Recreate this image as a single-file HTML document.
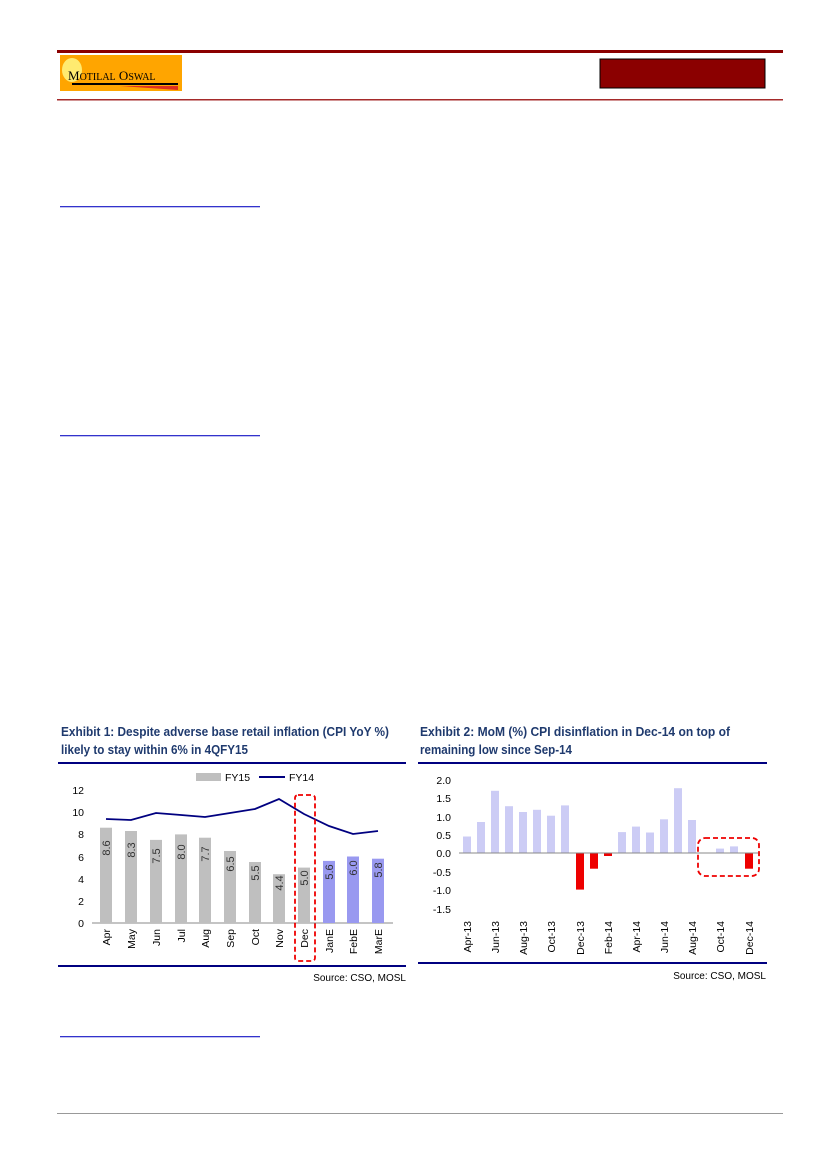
<!DOCTYPE html><html><head><style>body{margin:0;background:#fff}svg{display:block;font-family:"Liberation Sans",sans-serif}</style></head><body>
<svg width="827" height="1170" viewBox="0 0 827 1170" xmlns="http://www.w3.org/2000/svg">
<rect x="57" y="50" width="726" height="3" fill="#8b0000"/>
<rect x="57" y="99" width="726" height="1.5" fill="#a52a2a"/>
<rect x="60" y="55" width="122" height="36" fill="#ffa500"/>
<ellipse cx="72" cy="70" rx="10" ry="12" fill="#ffeb70"/>
<text x="68" y="80" font-family="Liberation Serif" font-size="13" fill="#000">M<tspan font-size="10">OTILAL</tspan> O<tspan font-size="10">SWAL</tspan></text>
<rect x="72" y="83" width="106" height="2" fill="#000"/>
<polygon points="120,86 178,86 178,90" fill="#e0301e"/>
<rect x="600" y="59" width="165" height="29" fill="#8b0000" stroke="#000"/>
<g fill="#3333cc"><rect x="60" y="206" width="200" height="1.3"/><rect x="60" y="435" width="200" height="1.3"/><rect x="60" y="1036" width="200" height="1.3"/></g>
<rect x="57" y="1113" width="726" height="1" fill="#999"/>
<g font-size="12.5" font-weight="bold" fill="#1f3a6e">
<text x="61" y="736" textLength="328" lengthAdjust="spacingAndGlyphs">Exhibit 1: Despite adverse base retail inflation (CPI YoY %)</text>
<text x="61" y="754" textLength="187" lengthAdjust="spacingAndGlyphs">likely to stay within 6% in 4QFY15</text>
<text x="420" y="736" textLength="310" lengthAdjust="spacingAndGlyphs">Exhibit 2: MoM (%) CPI disinflation in Dec-14 on top of</text>
<text x="420" y="754" textLength="152" lengthAdjust="spacingAndGlyphs">remaining low since Sep-14</text></g>
<g fill="#000080"><rect x="58" y="762" width="348" height="2"/><rect x="58" y="965" width="348" height="2"/><rect x="418" y="762" width="349" height="2"/><rect x="418" y="962" width="349" height="2"/></g>
<g font-size="10" fill="#000"><text x="406" y="981" text-anchor="end">Source: CSO, MOSL</text><text x="766" y="979" text-anchor="end">Source: CSO, MOSL</text></g>
<rect x="196" y="773" width="25" height="8" fill="#bfbfbf"/><text x="225" y="781" font-size="10.5">FY15</text>
<line x1="259" y1="777" x2="285" y2="777" stroke="#000080" stroke-width="2"/><text x="289" y="781" font-size="10.5">FY14</text>
<g font-size="10.5" text-anchor="end"><text x="84" y="927">0</text><text x="84" y="905">2</text><text x="84" y="883">4</text><text x="84" y="861">6</text><text x="84" y="838">8</text><text x="84" y="816">10</text><text x="84" y="794">12</text></g>
<line x1="92" y1="923" x2="393" y2="923" stroke="#888"/>
<g>
<rect x="100" y="827.7" width="12" height="95.3" fill="#bfbfbf"/><rect x="125" y="831" width="12" height="92" fill="#bfbfbf"/><rect x="150" y="839.9" width="12" height="83.1" fill="#bfbfbf"/><rect x="175" y="834.4" width="12" height="88.6" fill="#bfbfbf"/><rect x="199" y="837.7" width="12" height="85.3" fill="#bfbfbf"/><rect x="224" y="851" width="12" height="72" fill="#bfbfbf"/><rect x="249" y="862" width="12" height="61" fill="#bfbfbf"/><rect x="273" y="874.2" width="12" height="48.8" fill="#bfbfbf"/><rect x="298" y="867.6" width="12" height="55.4" fill="#bfbfbf"/><rect x="323" y="860.9" width="12" height="62.1" fill="#9999f0"/><rect x="347" y="856.5" width="12" height="66.5" fill="#9999f0"/><rect x="372" y="858.7" width="12" height="64.3" fill="#9999f0"/>
</g>
<g font-size="11" fill="#333">
<text transform="translate(110,848) rotate(-90)" text-anchor="middle">8.6</text>
<text transform="translate(135,850) rotate(-90)" text-anchor="middle">8.3</text>
<text transform="translate(160,856) rotate(-90)" text-anchor="middle">7.5</text>
<text transform="translate(185,852) rotate(-90)" text-anchor="middle">8.0</text>
<text transform="translate(209,854) rotate(-90)" text-anchor="middle">7.7</text>
<text transform="translate(234,864) rotate(-90)" text-anchor="middle">6.5</text>
<text transform="translate(259,873) rotate(-90)" text-anchor="middle">5.5</text>
<text transform="translate(283,883) rotate(-90)" text-anchor="middle">4.4</text>
<text transform="translate(308,878) rotate(-90)" text-anchor="middle">5.0</text>
<text transform="translate(333,872) rotate(-90)" text-anchor="middle">5.6</text>
<text transform="translate(357,868) rotate(-90)" text-anchor="middle">6.0</text>
<text transform="translate(382,870) rotate(-90)" text-anchor="middle">5.8</text>
</g>
<polyline fill="none" stroke="#000080" stroke-width="1.8" points="106,819 131,820 156,813 181,815 205,817 230,813 255,809 279,799 304,814 329,826 353,834 378,831"/>
<g font-size="10.5" text-anchor="end">
<text transform="translate(110,929) rotate(-90)">Apr</text><text transform="translate(135,929) rotate(-90)">May</text><text transform="translate(160,929) rotate(-90)">Jun</text><text transform="translate(185,929) rotate(-90)">Jul</text><text transform="translate(209,929) rotate(-90)">Aug</text><text transform="translate(234,929) rotate(-90)">Sep</text><text transform="translate(259,929) rotate(-90)">Oct</text><text transform="translate(283,929) rotate(-90)">Nov</text><text transform="translate(308,929) rotate(-90)">Dec</text><text transform="translate(333,929) rotate(-90)">JanE</text><text transform="translate(357,929) rotate(-90)">FebE</text><text transform="translate(382,929) rotate(-90)">MarE</text></g>
<rect x="295" y="795" width="20" height="166" rx="3" fill="none" stroke="#e00" stroke-width="1.8" stroke-dasharray="5,3"/>
<g font-size="10.5" text-anchor="end"><text x="451" y="784">2.0</text><text x="451" y="802">1.5</text><text x="451" y="821">1.0</text><text x="451" y="839">0.5</text><text x="451" y="857">0.0</text><text x="451" y="876">-0.5</text><text x="451" y="894">-1.0</text><text x="451" y="913">-1.5</text></g>
<g fill="#ccccf5">
<rect x="463" y="836.5" width="8" height="16.5"/><rect x="477" y="822" width="8" height="31"/><rect x="491" y="790.8" width="8" height="62.2"/><rect x="505" y="806.2" width="8" height="46.8"/><rect x="519" y="812" width="8" height="41"/><rect x="533" y="809.8" width="8" height="43.2"/><rect x="547" y="815.7" width="8" height="37.3"/><rect x="561" y="805.4" width="8" height="47.6"/>
<rect x="618" y="832.1" width="8" height="20.9"/><rect x="632" y="826.6" width="8" height="26.4"/><rect x="646" y="832.5" width="8" height="20.5"/><rect x="660" y="819.3" width="8" height="33.7"/><rect x="674" y="788.2" width="8" height="64.8"/><rect x="688" y="820" width="8" height="33"/><rect x="716" y="848.6" width="8" height="4.4"/><rect x="730" y="846.4" width="8" height="6.6"/></g>
<g fill="#ee0000"><rect x="576" y="853" width="8" height="36.6"/><rect x="590" y="853" width="8" height="15.7"/><rect x="604" y="853" width="8" height="3"/><rect x="745" y="853" width="8" height="15.7"/></g>
<line x1="459" y1="853" x2="758" y2="853" stroke="#888"/>
<g font-size="10.5" text-anchor="end">
<text transform="translate(471,921) rotate(-90)">Apr-13</text><text transform="translate(499,921) rotate(-90)">Jun-13</text><text transform="translate(527,921) rotate(-90)">Aug-13</text><text transform="translate(555,921) rotate(-90)">Oct-13</text><text transform="translate(584,921) rotate(-90)">Dec-13</text><text transform="translate(612,921) rotate(-90)">Feb-14</text><text transform="translate(640,921) rotate(-90)">Apr-14</text><text transform="translate(668,921) rotate(-90)">Jun-14</text><text transform="translate(696,921) rotate(-90)">Aug-14</text><text transform="translate(724,921) rotate(-90)">Oct-14</text><text transform="translate(753,921) rotate(-90)">Dec-14</text></g>
<rect x="698" y="838" width="61" height="38" rx="7" fill="none" stroke="#e00" stroke-width="1.8" stroke-dasharray="5,3"/>
</svg></body></html>
